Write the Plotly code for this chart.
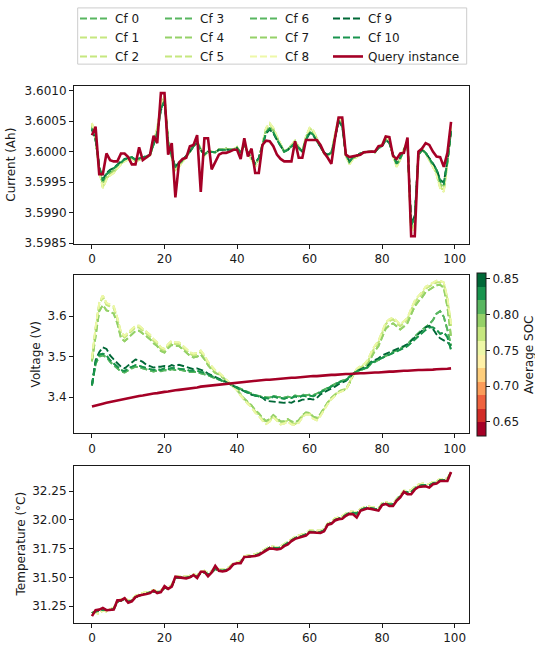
import plotly.graph_objects as go
from plotly.colors import get_colorscale, sample_colorscale

# ---------------------------------------------------------------- data
steps = list(range(100))

cf_names = ["Cf 0", "Cf 1", "Cf 2", "Cf 3", "Cf 4", "Cf 5", "Cf 6", "Cf 7", "Cf 8", "Cf 9", "Cf 10"]
cf_soc = [0.815, 0.775, 0.772, 0.806, 0.790, 0.776, 0.808, 0.792, 0.755, 0.852, 0.833]
query_name = "Query instance"
query_soc = 0.636
soc_ticks = [0.65, 0.70, 0.75, 0.80, 0.85]

current_ticks = [3.5985, 3.5990, 3.5995, 3.6000, 3.6005, 3.6010]
voltage_ticks = [3.4, 3.5, 3.6]
temperature_ticks = [31.25, 31.50, 31.75, 32.00, 32.25]
step_ticks = [0, 20, 40, 60, 80, 100]

current_query = [
    3.60027, 3.60041, 3.59963, 3.59963, 3.59997, 3.59986, 3.59984, 3.59984, 3.59997, 3.59997,
    3.59991, 3.59979, 3.59979, 3.60007, 3.59986, 3.59991, 3.59995, 3.60026, 3.60014, 3.60096,
    3.60096, 3.59995, 3.60014, 3.59925, 3.59982, 3.59988, 3.59990, 3.60009, 3.60011, 3.60027,
    3.59934, 3.60022, 3.60022, 3.59971, 3.59984, 3.59995, 3.59998, 3.59998, 3.60000, 3.60003,
    3.60003, 3.59988, 3.60022, 3.59992, 3.60005, 3.59965, 3.59965, 3.60011, 3.60018, 3.60017,
    3.60009, 3.59995, 3.59988, 3.59984, 3.59984, 3.59984, 3.60017, 3.59990, 3.59990, 3.60019,
    3.60019, 3.60019, 3.60019, 3.60011, 3.59998, 3.59990, 3.59980, 3.60022, 3.60056, 3.60056,
    3.59995, 3.59991, 3.59992, 3.59994, 3.59995, 3.59999, 3.60000, 3.60000, 3.60000, 3.60009,
    3.60010, 3.60025, 3.60024, 3.59993, 3.59988, 3.59997, 3.59998, 3.60023, 3.59861, 3.59861,
    3.60000, 3.60005, 3.60014, 3.60011, 3.60000, 3.59992, 3.59991, 3.59975, 3.59998, 3.60049,
]
current_cf_a = [
    3.60036, 3.60019, 3.59976, 3.59954, 3.59965, 3.59970, 3.59973, 3.59979, 3.59984, 3.59988,
    3.59990, 3.59991, 3.59987, 3.59990, 3.59991, 3.59992, 3.59995, 3.60011, 3.60030, 3.60068,
    3.60082, 3.60014, 3.59992, 3.59976, 3.59981, 3.59987, 3.59993, 3.60000, 3.60009, 3.60014,
    3.60003, 3.59995, 3.60000, 3.60000, 3.59999, 3.60003, 3.60003, 3.60004, 3.60003, 3.60003,
    3.60006, 3.59998, 3.60011, 3.59998, 3.59990, 3.59981, 3.59990, 3.60011, 3.60030, 3.60036,
    3.60030, 3.60019, 3.60009, 3.60000, 3.60003, 3.60009, 3.60014, 3.60006, 3.60000, 3.60019,
    3.60030, 3.60027, 3.60017, 3.60006, 3.59998, 3.59995, 3.59998, 3.60022, 3.60050, 3.60041,
    3.59995, 3.59984, 3.59991, 3.59993, 3.59997, 3.59999, 3.60000, 3.60000, 3.59999, 3.60006,
    3.60009, 3.60019, 3.60014, 3.59995, 3.59981, 3.59990, 3.60003, 3.60014, 3.59882, 3.59895,
    3.59995, 3.60003, 3.59998, 3.59990, 3.59981, 3.59971, 3.59954, 3.59949, 3.59985, 3.60032,
]
current_cf_b = [
    3.60038, 3.60020, 3.59975, 3.59952, 3.59963, 3.59968, 3.59972, 3.59978, 3.59983, 3.59987,
    3.59989, 3.59991, 3.59986, 3.59989, 3.59991, 3.59992, 3.59995, 3.60012, 3.60032, 3.60070,
    3.60084, 3.60015, 3.59992, 3.59975, 3.59980, 3.59986, 3.59993, 3.60000, 3.60009, 3.60015,
    3.60003, 3.59995, 3.60000, 3.60000, 3.59999, 3.60003, 3.60003, 3.60004, 3.60003, 3.60003,
    3.60006, 3.59998, 3.60012, 3.59998, 3.59989, 3.59980, 3.59989, 3.60012, 3.60032, 3.60038,
    3.60032, 3.60020, 3.60009, 3.60000, 3.60003, 3.60009, 3.60015, 3.60006, 3.60000, 3.60020,
    3.60032, 3.60028, 3.60018, 3.60006, 3.59998, 3.59995, 3.59998, 3.60023, 3.60051, 3.60043,
    3.59995, 3.59983, 3.59991, 3.59993, 3.59997, 3.59999, 3.60000, 3.60000, 3.59999, 3.60006,
    3.60009, 3.60020, 3.60015, 3.59995, 3.59980, 3.59989, 3.60003, 3.60015, 3.59879, 3.59892,
    3.59995, 3.60003, 3.59998, 3.59989, 3.59980, 3.59970, 3.59952, 3.59946, 3.59984, 3.60034,
]
current_cf_c = [
    3.60041, 3.60022, 3.59972, 3.59947, 3.59960, 3.59965, 3.59969, 3.59976, 3.59982, 3.59986,
    3.59988, 3.59990, 3.59985, 3.59988, 3.59990, 3.59991, 3.59994, 3.60013, 3.60035, 3.60074,
    3.60088, 3.60016, 3.59991, 3.59972, 3.59978, 3.59985, 3.59992, 3.60000, 3.60010, 3.60016,
    3.60003, 3.59994, 3.60000, 3.60000, 3.59999, 3.60003, 3.60003, 3.60005, 3.60003, 3.60003,
    3.60007, 3.59998, 3.60013, 3.59998, 3.59988, 3.59978, 3.59988, 3.60013, 3.60035, 3.60041,
    3.60035, 3.60022, 3.60010, 3.60000, 3.60003, 3.60010, 3.60016, 3.60007, 3.60000, 3.60022,
    3.60035, 3.60031, 3.60020, 3.60007, 3.59998, 3.59994, 3.59998, 3.60025, 3.60053, 3.60047,
    3.59994, 3.59982, 3.59990, 3.59992, 3.59997, 3.59999, 3.60000, 3.60000, 3.59999, 3.60007,
    3.60010, 3.60022, 3.60016, 3.59994, 3.59978, 3.59988, 3.60003, 3.60016, 3.59873, 3.59886,
    3.59994, 3.60003, 3.59998, 3.59988, 3.59978, 3.59967, 3.59947, 3.59941, 3.59983, 3.60037,
]
current_cf_d = [
    3.60045, 3.60024, 3.59970, 3.59942, 3.59956, 3.59962, 3.59966, 3.59974, 3.59980, 3.59985,
    3.59987, 3.59989, 3.59984, 3.59987, 3.59989, 3.59990, 3.59994, 3.60014, 3.60038, 3.60077,
    3.60090, 3.60018, 3.59990, 3.59970, 3.59976, 3.59984, 3.59991, 3.60000, 3.60011, 3.60018,
    3.60004, 3.59994, 3.60000, 3.60000, 3.59999, 3.60004, 3.60004, 3.60005, 3.60004, 3.60004,
    3.60008, 3.59997, 3.60014, 3.59997, 3.59987, 3.59976, 3.59987, 3.60014, 3.60038, 3.60045,
    3.60038, 3.60024, 3.60011, 3.60000, 3.60004, 3.60011, 3.60018, 3.60008, 3.60000, 3.60024,
    3.60038, 3.60034, 3.60021, 3.60008, 3.59997, 3.59994, 3.59997, 3.60028, 3.60054, 3.60051,
    3.59994, 3.59980, 3.59989, 3.59991, 3.59996, 3.59999, 3.60000, 3.60000, 3.59999, 3.60008,
    3.60011, 3.60024, 3.60018, 3.59994, 3.59976, 3.59987, 3.60004, 3.60018, 3.59868, 3.59881,
    3.59994, 3.60004, 3.59997, 3.59987, 3.59976, 3.59964, 3.59942, 3.59936, 3.59981, 3.60040,
]
current_cf_e = [
    3.60047, 3.60025, 3.59969, 3.59940, 3.59954, 3.59961, 3.59965, 3.59973, 3.59979, 3.59984,
    3.59987, 3.59988, 3.59983, 3.59987, 3.59988, 3.59990, 3.59993, 3.60014, 3.60039, 3.60079,
    3.60092, 3.60018, 3.59990, 3.59969, 3.59975, 3.59983, 3.59991, 3.60000, 3.60012, 3.60018,
    3.60004, 3.59993, 3.60000, 3.60000, 3.59999, 3.60004, 3.60004, 3.60005, 3.60004, 3.60004,
    3.60008, 3.59997, 3.60014, 3.59997, 3.59987, 3.59975, 3.59987, 3.60014, 3.60039, 3.60047,
    3.60039, 3.60025, 3.60012, 3.60000, 3.60004, 3.60012, 3.60018, 3.60008, 3.60000, 3.60025,
    3.60039, 3.60035, 3.60022, 3.60008, 3.59997, 3.59993, 3.59997, 3.60029, 3.60055, 3.60053,
    3.59993, 3.59979, 3.59988, 3.59991, 3.59996, 3.59999, 3.60000, 3.60000, 3.59999, 3.60008,
    3.60012, 3.60025, 3.60018, 3.59993, 3.59975, 3.59987, 3.60004, 3.60018, 3.59864, 3.59878,
    3.59993, 3.60004, 3.59997, 3.59987, 3.59975, 3.59962, 3.59940, 3.59934, 3.59980, 3.60042,
]

voltage_query = [
    3.377, 3.380, 3.382, 3.384, 3.386, 3.388, 3.390, 3.392, 3.394, 3.396,
    3.398, 3.400, 3.401, 3.403, 3.404, 3.406, 3.407, 3.409, 3.410, 3.412,
    3.413, 3.414, 3.416, 3.417, 3.418, 3.419, 3.421, 3.422, 3.423, 3.424,
    3.426, 3.427, 3.428, 3.429, 3.430, 3.431, 3.432, 3.433, 3.434, 3.435,
    3.436, 3.437, 3.438, 3.439, 3.440, 3.440, 3.441, 3.442, 3.443, 3.443,
    3.444, 3.445, 3.446, 3.446, 3.447, 3.448, 3.448, 3.449, 3.450, 3.450,
    3.451, 3.452, 3.452, 3.453, 3.453, 3.454, 3.455, 3.455, 3.456, 3.456,
    3.457, 3.457, 3.458, 3.458, 3.459, 3.459, 3.460, 3.460, 3.461, 3.461,
    3.462, 3.462, 3.463, 3.463, 3.464, 3.464, 3.465, 3.465, 3.466, 3.466,
    3.467, 3.467, 3.467, 3.468, 3.468, 3.469, 3.469, 3.470, 3.470, 3.471,
]
voltage_cf_pale = [
    3.491, 3.568, 3.628, 3.647, 3.628, 3.624, 3.620, 3.592, 3.556, 3.547,
    3.556, 3.564, 3.572, 3.572, 3.564, 3.556, 3.550, 3.539, 3.531, 3.519,
    3.515, 3.527, 3.535, 3.531, 3.531, 3.523, 3.515, 3.507, 3.503, 3.505,
    3.511, 3.499, 3.483, 3.471, 3.462, 3.458, 3.450, 3.442, 3.434, 3.426,
    3.418, 3.406, 3.394, 3.386, 3.378, 3.365, 3.357, 3.345, 3.337, 3.343,
    3.354, 3.345, 3.336, 3.338, 3.343, 3.336, 3.334, 3.340, 3.353, 3.361,
    3.360, 3.350, 3.346, 3.357, 3.373, 3.386, 3.398, 3.406, 3.414, 3.418,
    3.420, 3.436, 3.456, 3.468, 3.474, 3.478, 3.487, 3.507, 3.523, 3.535,
    3.558, 3.580, 3.588, 3.592, 3.584, 3.575, 3.583, 3.592, 3.614, 3.634,
    3.645, 3.655, 3.668, 3.673, 3.679, 3.683, 3.683, 3.679, 3.640, 3.576,
]
voltage_cf_palest = [
    3.495, 3.572, 3.632, 3.651, 3.632, 3.628, 3.624, 3.596, 3.560, 3.551,
    3.560, 3.568, 3.576, 3.576, 3.568, 3.560, 3.554, 3.543, 3.535, 3.523,
    3.519, 3.531, 3.539, 3.535, 3.535, 3.527, 3.519, 3.511, 3.507, 3.509,
    3.515, 3.503, 3.487, 3.475, 3.466, 3.461, 3.453, 3.444, 3.435, 3.426,
    3.417, 3.404, 3.392, 3.383, 3.375, 3.362, 3.354, 3.342, 3.334, 3.340,
    3.351, 3.342, 3.333, 3.335, 3.340, 3.333, 3.331, 3.337, 3.350, 3.358,
    3.357, 3.347, 3.343, 3.354, 3.370, 3.383, 3.395, 3.403, 3.411, 3.415,
    3.418, 3.435, 3.456, 3.470, 3.477, 3.481, 3.491, 3.511, 3.527, 3.539,
    3.562, 3.584, 3.592, 3.596, 3.588, 3.579, 3.587, 3.596, 3.618, 3.638,
    3.649, 3.659, 3.672, 3.677, 3.683, 3.687, 3.687, 3.683, 3.644, 3.580,
]
voltage_cf_light = [
    3.488, 3.556, 3.612, 3.627, 3.614, 3.611, 3.606, 3.582, 3.546, 3.538,
    3.546, 3.555, 3.563, 3.564, 3.557, 3.549, 3.543, 3.533, 3.526, 3.514,
    3.510, 3.521, 3.529, 3.526, 3.526, 3.518, 3.510, 3.502, 3.498, 3.500,
    3.505, 3.494, 3.479, 3.468, 3.460, 3.456, 3.449, 3.441, 3.434, 3.426,
    3.418, 3.407, 3.396, 3.388, 3.380, 3.368, 3.360, 3.349, 3.341, 3.346,
    3.356, 3.348, 3.340, 3.341, 3.346, 3.340, 3.338, 3.343, 3.355, 3.362,
    3.361, 3.352, 3.349, 3.359, 3.374, 3.387, 3.398, 3.406, 3.413, 3.417,
    3.419, 3.434, 3.454, 3.465, 3.470, 3.473, 3.481, 3.499, 3.514, 3.526,
    3.548, 3.569, 3.577, 3.582, 3.575, 3.567, 3.574, 3.583, 3.604, 3.624,
    3.636, 3.646, 3.659, 3.665, 3.672, 3.676, 3.677, 3.670, 3.622, 3.548,
]
voltage_cf_dark = [
    3.430, 3.491, 3.511, 3.523, 3.519, 3.503, 3.493, 3.483, 3.475, 3.471,
    3.479, 3.487, 3.493, 3.491, 3.487, 3.480, 3.476, 3.473, 3.475, 3.475,
    3.477, 3.475, 3.479, 3.476, 3.480, 3.477, 3.475, 3.471, 3.469, 3.471,
    3.468, 3.464, 3.458, 3.454, 3.450, 3.446, 3.442, 3.438, 3.433, 3.428,
    3.424, 3.418, 3.414, 3.410, 3.406, 3.404, 3.402, 3.399, 3.391, 3.390,
    3.390, 3.388, 3.388, 3.386, 3.388, 3.386, 3.391, 3.390, 3.394, 3.394,
    3.396, 3.394, 3.398, 3.407, 3.412, 3.416, 3.422, 3.426, 3.432, 3.436,
    3.440, 3.448, 3.458, 3.464, 3.469, 3.472, 3.477, 3.487, 3.491, 3.496,
    3.503, 3.507, 3.511, 3.515, 3.517, 3.521, 3.526, 3.531, 3.539, 3.547,
    3.555, 3.564, 3.572, 3.576, 3.568, 3.555, 3.545, 3.540, 3.535, 3.527,
]
voltage_cf_green = [
    3.430, 3.486, 3.505, 3.507, 3.503, 3.491, 3.483, 3.475, 3.467, 3.464,
    3.471, 3.475, 3.479, 3.477, 3.475, 3.472, 3.469, 3.467, 3.469, 3.467,
    3.471, 3.469, 3.472, 3.471, 3.471, 3.469, 3.468, 3.465, 3.465, 3.465,
    3.462, 3.460, 3.456, 3.452, 3.448, 3.445, 3.441, 3.437, 3.432, 3.428,
    3.422, 3.418, 3.414, 3.410, 3.406, 3.404, 3.402, 3.399, 3.398, 3.396,
    3.402, 3.399, 3.398, 3.396, 3.399, 3.398, 3.402, 3.399, 3.404, 3.402,
    3.404, 3.402, 3.407, 3.412, 3.418, 3.422, 3.426, 3.432, 3.436, 3.440,
    3.442, 3.450, 3.458, 3.464, 3.469, 3.470, 3.474, 3.485, 3.488, 3.493,
    3.497, 3.501, 3.505, 3.509, 3.513, 3.515, 3.521, 3.526, 3.534, 3.543,
    3.551, 3.560, 3.566, 3.572, 3.572, 3.566, 3.556, 3.560, 3.548, 3.516,
]
voltage_cf_mid = [
    3.428, 3.482, 3.500, 3.503, 3.499, 3.487, 3.479, 3.471, 3.463, 3.461,
    3.467, 3.471, 3.475, 3.474, 3.471, 3.468, 3.466, 3.463, 3.466, 3.464,
    3.467, 3.466, 3.469, 3.467, 3.468, 3.466, 3.465, 3.462, 3.462, 3.462,
    3.459, 3.457, 3.454, 3.450, 3.447, 3.444, 3.440, 3.436, 3.432, 3.428,
    3.423, 3.419, 3.415, 3.411, 3.407, 3.405, 3.403, 3.401, 3.400, 3.399,
    3.403, 3.401, 3.400, 3.399, 3.401, 3.400, 3.404, 3.402, 3.406, 3.405,
    3.406, 3.405, 3.409, 3.414, 3.419, 3.423, 3.428, 3.433, 3.437, 3.441,
    3.443, 3.451, 3.458, 3.463, 3.467, 3.469, 3.473, 3.483, 3.487, 3.492,
    3.497, 3.502, 3.507, 3.512, 3.516, 3.519, 3.525, 3.531, 3.540, 3.550,
    3.558, 3.566, 3.572, 3.580, 3.590, 3.606, 3.612, 3.598, 3.566, 3.527,
]

temperature_query = [
    31.164, 31.216, 31.221, 31.236, 31.216, 31.216, 31.221, 31.301, 31.301, 31.321,
    31.281, 31.293, 31.330, 31.344, 31.353, 31.356, 31.364, 31.387, 31.364, 31.373,
    31.424, 31.401, 31.421, 31.507, 31.501, 31.496, 31.493, 31.501, 31.521, 31.496,
    31.550, 31.550, 31.510, 31.544, 31.601, 31.559, 31.553, 31.559, 31.579, 31.616,
    31.624, 31.624, 31.679, 31.681, 31.681, 31.687, 31.696, 31.716, 31.730, 31.753,
    31.750, 31.744, 31.750, 31.773, 31.787, 31.816, 31.836, 31.844, 31.853, 31.864,
    31.893, 31.893, 31.887, 31.887, 31.901, 31.959, 31.967, 31.996, 32.007, 32.010,
    32.036, 32.053, 32.050, 32.021, 32.079, 32.093, 32.101, 32.096, 32.087, 32.081,
    32.130, 32.139, 32.121, 32.121, 32.167, 32.196, 32.244, 32.224, 32.224, 32.264,
    32.287, 32.293, 32.293, 32.281, 32.310, 32.316, 32.339, 32.339, 32.339, 32.416,
]
temperature_cf_green = [
    31.190, 31.205, 31.212, 31.222, 31.218, 31.218, 31.226, 31.290, 31.300, 31.312,
    31.290, 31.300, 31.330, 31.345, 31.356, 31.360, 31.368, 31.380, 31.372, 31.380,
    31.410, 31.405, 31.425, 31.495, 31.500, 31.500, 31.498, 31.505, 31.518, 31.508,
    31.542, 31.548, 31.528, 31.545, 31.575, 31.562, 31.560, 31.566, 31.584, 31.615,
    31.626, 31.632, 31.676, 31.684, 31.686, 31.692, 31.702, 31.722, 31.738, 31.758,
    31.758, 31.754, 31.760, 31.780, 31.796, 31.822, 31.842, 31.852, 31.862, 31.874,
    31.898, 31.900, 31.896, 31.896, 31.910, 31.960, 31.974, 32.002, 32.014, 32.020,
    32.044, 32.060, 32.062, 32.056, 32.084, 32.100, 32.108, 32.104, 32.096, 32.092,
    32.134, 32.146, 32.134, 32.134, 32.172, 32.204, 32.242, 32.240, 32.244, 32.272,
    32.294, 32.302, 32.302, 32.300, 32.318, 32.326, 32.346, 32.348, 32.350, 32.416,
]
temperature_cf_pale = [
    31.200, 31.190, 31.185, 31.215, 31.205, 31.225, 31.235, 31.298, 31.310, 31.322,
    31.300, 31.310, 31.340, 31.355, 31.366, 31.370, 31.378, 31.390, 31.382, 31.390,
    31.420, 31.415, 31.435, 31.505, 31.510, 31.510, 31.508, 31.515, 31.528, 31.518,
    31.552, 31.558, 31.538, 31.555, 31.585, 31.572, 31.570, 31.576, 31.594, 31.625,
    31.636, 31.642, 31.686, 31.694, 31.696, 31.702, 31.712, 31.732, 31.748, 31.768,
    31.768, 31.764, 31.770, 31.790, 31.806, 31.832, 31.854, 31.864, 31.874, 31.886,
    31.908, 31.910, 31.906, 31.906, 31.920, 31.970, 31.986, 32.014, 32.026, 32.032,
    32.056, 32.072, 32.072, 32.066, 32.094, 32.110, 32.118, 32.114, 32.106, 32.102,
    32.144, 32.156, 32.144, 32.144, 32.182, 32.214, 32.254, 32.252, 32.258, 32.286,
    32.308, 32.316, 32.316, 32.312, 32.330, 32.336, 32.356, 32.358, 32.360, 32.420,
]

# which readings belong to which counterfactual, in the order of cf_names
current_cfs = [current_cf_b, current_cf_d, current_cf_e, current_cf_c, current_cf_c, current_cf_d,
               current_cf_b, current_cf_c, current_cf_e, current_cf_a, current_cf_b]
voltage_cfs = [voltage_cf_green, voltage_cf_pale, voltage_cf_palest, voltage_cf_mid, voltage_cf_light,
               voltage_cf_pale, voltage_cf_mid, voltage_cf_light, voltage_cf_palest, voltage_cf_dark,
               voltage_cf_green]
temperature_cfs = [temperature_cf_green, temperature_cf_pale, temperature_cf_pale, temperature_cf_green,
                   temperature_cf_green, temperature_cf_pale, temperature_cf_green, temperature_cf_green,
                   temperature_cf_pale, temperature_cf_green, temperature_cf_green]

# ---------------------------------------------------------------- colours
SOC_MIN, SOC_MAX, N_BINS = 0.6305, 0.8584, 12
rdylgn = get_colorscale("RdYlGn")
bin_colors = sample_colorscale(rdylgn, [i / (N_BINS - 1) for i in range(N_BINS)])

discrete_scale = []
for i, c in enumerate(bin_colors):
    discrete_scale.append([i / N_BINS, c])
    discrete_scale.append([(i + 1) / N_BINS, c])


def soc_color(v):
    idx = int((v - SOC_MIN) / (SOC_MAX - SOC_MIN) * N_BINS)
    return bin_colors[max(0, min(N_BINS - 1, idx))]


# ---------------------------------------------------------------- figure
W, H = 535, 653
ML, MR = 74, 66
PW = W - ML - MR

def px_x(p):
    return (p - ML) / PW

def px_y(p):
    return (H - p) / H

panel_px = [(85, 245), (277.3, 437.3), (470, 629.3)]
domains = [[px_y(b), px_y(t)] for t, b in panel_px]

FONT = "DejaVu Sans"
INK = "#1a1a1a"
CF_DASH = "7px,3px"

fig = go.Figure()

legend_for = ["legend", "legend", "legend", "legend2", "legend2", "legend2",
              "legend3", "legend3", "legend3", "legend4", "legend4"]

panels = [
    ("x", "y", current_cfs, current_query),
    ("x2", "y2", voltage_cfs, voltage_query),
    ("x3", "y3", temperature_cfs, temperature_query),
]

for p, (xa, ya, cfs, query) in enumerate(panels):
    for i, name in enumerate(cf_names):
        fig.add_trace(go.Scatter(
            x=steps, y=cfs[i], mode="lines", name=name,
            line=dict(color=soc_color(cf_soc[i]), width=1.9, dash=CF_DASH),
            xaxis=xa, yaxis=ya, legend=legend_for[i],
            showlegend=(p == 0), hoverinfo="skip",
        ))
    fig.add_trace(go.Scatter(
        x=steps, y=query, mode="lines", name=query_name,
        line=dict(color=soc_color(query_soc), width=2.6),
        xaxis=xa, yaxis=ya, legend="legend4",
        showlegend=(p == 0), hoverinfo="skip",
    ))

# colour bar for the average state of charge
fig.add_trace(go.Scatter(
    x=[steps[0], steps[0]], y=[current_query[0], current_query[0]], mode="markers",
    marker=dict(
        size=1, opacity=0, color=[SOC_MIN, SOC_MAX], cmin=SOC_MIN, cmax=SOC_MAX,
        colorscale=discrete_scale, showscale=True,
        colorbar=dict(
            x=px_x(476.7), xanchor="left", xpad=0, ypad=0,
            y=px_y(357.3), yanchor="middle", lenmode="pixels", len=163.3,
            thickness=9, outlinewidth=1, outlinecolor=INK,
            ticks="outside", ticklen=4, tickwidth=1, tickcolor=INK,
            tickvals=soc_ticks, tickformat=".2f",
            tickfont=dict(family=FONT, size=12, color=INK),
        ),
    ),
    showlegend=False, hoverinfo="skip", xaxis="x2", yaxis="y2",
))

axis_style = dict(
    showline=True, mirror=True, linecolor=INK, linewidth=1,
    ticks="outside", ticklen=4, tickwidth=1, tickcolor=INK,
    showgrid=False, zeroline=False,
    tickfont=dict(family=FONT, size=12, color=INK),
)

layout = dict(
    width=W, height=H,
    margin=dict(l=ML, r=MR, t=0, b=0, pad=0),
    paper_bgcolor="white", plot_bgcolor="white",
    font=dict(family=FONT, size=12, color=INK),
)

y_specs = [
    (current_ticks, [3.59849, 3.60108], ".4f"),
    (voltage_ticks, [3.311, 3.700], ".1f"),
    (temperature_ticks, [31.108, 32.473], ".2f"),
]
for k in range(3):
    sfx = "" if k == 0 else str(k + 1)
    layout["xaxis" + sfx] = dict(
        axis_style, domain=[0, 1], anchor="y" + sfx,
        range=[-4.95, 103.95], tickvals=step_ticks,
    )
    ticks, rng, fmt = y_specs[k]
    layout["yaxis" + sfx] = dict(
        axis_style, domain=domains[k], anchor="x" + sfx,
        range=rng, tickvals=ticks, tickformat=fmt,
    )

# four legend columns laid out like a 4-column legend box
legend_left_px = [75, 160, 245, 328]
for name, lx in zip(["legend", "legend2", "legend3", "legend4"], legend_left_px):
    layout[name] = dict(
        x=px_x(lx), y=px_y(2), xanchor="left", yanchor="top",
        bgcolor="rgba(0,0,0,0)", borderwidth=0, itemwidth=30,
        font=dict(family=FONT, size=12, color=INK), tracegroupgap=0,
    )

layout["shapes"] = [dict(
    type="rect", xref="paper", yref="paper", layer="below",
    x0=px_x(77.7), x1=px_x(466.7), y0=px_y(63), y1=px_y(6),
    line=dict(color="#cccccc", width=1), fillcolor="white",
)]

titles = [
    ("Current (Ah)", 11, 165),
    ("Voltage (V)", 36, 357.3),
    ("Temperature (°C)", 20.5, 549.5),
    ("Average SOC", 528.5, 357.5),
]
layout["annotations"] = [
    dict(text=t, xref="paper", yref="paper", x=px_x(xp), y=px_y(yp),
         xanchor="center", yanchor="middle", textangle=-90, showarrow=False,
         font=dict(family=FONT, size=12, color=INK))
    for t, xp, yp in titles
]

fig.update_layout(**layout)
fig.write_html("out.html")
